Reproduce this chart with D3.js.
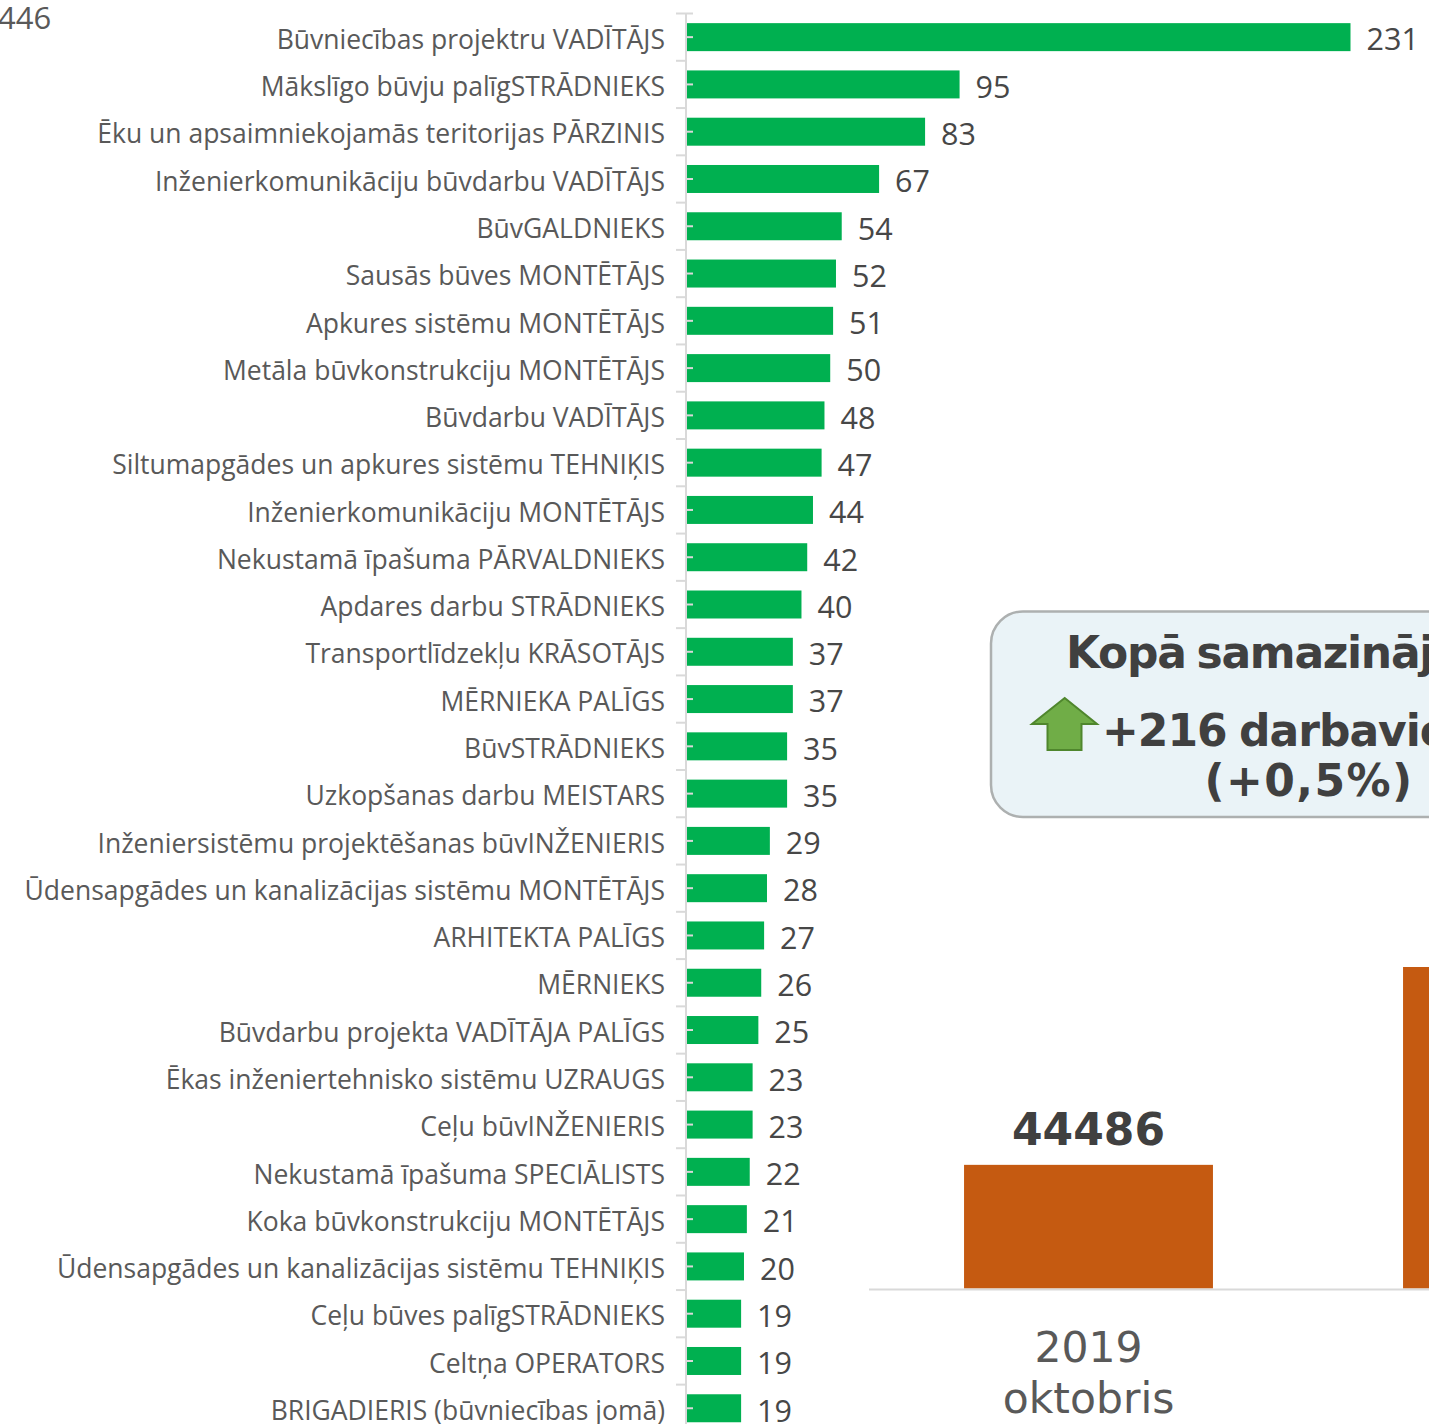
<!DOCTYPE html>
<html><head><meta charset="utf-8">
<script src="https://cdn.jsdelivr.net/npm/d3@7"></script>
<style>html,body{margin:0;padding:0;background:#fff;overflow:hidden}svg{display:block}</style>
</head><body><svg id="c" width="1429" height="1424"></svg>
<script>
const professions = ["Būvniecības projektru VADĪTĀJS","Mākslīgo būvju palīgSTRĀDNIEKS","Ēku un apsaimniekojamās teritorijas PĀRZINIS","Inženierkomunikāciju būvdarbu VADĪTĀJS","BūvGALDNIEKS","Sausās būves MONTĒTĀJS","Apkures sistēmu MONTĒTĀJS","Metāla būvkonstrukciju MONTĒTĀJS","Būvdarbu VADĪTĀJS","Siltumapgādes un apkures sistēmu TEHNIĶIS","Inženierkomunikāciju MONTĒTĀJS","Nekustamā īpašuma PĀRVALDNIEKS","Apdares darbu STRĀDNIEKS","Transportlīdzekļu KRĀSOTĀJS","MĒRNIEKA PALĪGS","BūvSTRĀDNIEKS","Uzkopšanas darbu MEISTARS","Inženiersistēmu projektēšanas būvINŽENIERIS","Ūdensapgādes un kanalizācijas sistēmu MONTĒTĀJS","ARHITEKTA PALĪGS","MĒRNIEKS","Būvdarbu projekta VADĪTĀJA PALĪGS","Ēkas inženiertehnisko sistēmu UZRAUGS","Ceļu būvINŽENIERIS","Nekustamā īpašuma SPECIĀLISTS","Koka būvkonstrukciju MONTĒTĀJS","Ūdensapgādes un kanalizācijas sistēmu TEHNIĶIS","Ceļu būves palīgSTRĀDNIEKS","Celtņa OPERATORS","BRIGADIERIS (būvniecības jomā)"];
const vacancies = [231,95,83,67,54,52,51,50,48,47,44,42,40,37,37,35,35,29,28,27,26,25,23,23,22,21,20,19,19,19];
const periods = ["2019 oktobris","nākamais periods"];
const totals = [44486,44702];
const cutoffLabel = "446";
const calloutTitle = "Kopā samazinājums";
const calloutChange = "+216 darbavietas";
const calloutPercent = "(+0,5%)";

const svg = d3.select("#c");
const sans = "'Open Sans', sans-serif", dj = "'DejaVu Sans', sans-serif";

const rowStep = 47.28, plotTop = 13.5;
const x = d3.scaleLinear().domain([0,231]).range([687,1351]);
const y = d3.scaleBand().domain(professions).range([plotTop, plotTop+rowStep*professions.length]).paddingInner(0.408).paddingOuter(0.204);

svg.append("text").attr("x",-2).attr("y",29).attr("font-family",sans).attr("font-size",31).attr("fill","#595959").text(cutoffLabel);

svg.append("g").selectAll("rect").data(professions).join("rect")
  .attr("x",x(0)).attr("y",d=>y(d)).attr("height",y.bandwidth())
  .attr("width",(d,i)=>x(vacancies[i])-x(0)-0.5).attr("fill","#00B050");

const ax = svg.append("g").attr("stroke","#D9D9D9").attr("stroke-width",2);
ax.append("line").attr("x1",686).attr("x2",686).attr("y1",plotTop).attr("y2",1424);
const edges = d3.range(professions.length+1).map(i=>plotTop+i*rowStep);
ax.selectAll("line.maj").data(edges).join("line").attr("class","maj")
  .attr("x1",676).attr("x2",(d,i)=>i===0?693:686).attr("y1",d=>d).attr("y2",d=>d);
ax.selectAll("line.min").data(professions).join("line").attr("class","min")
  .attr("x1",686).attr("x2",693).attr("y1",d=>y(d)+y.bandwidth()/2).attr("y2",d=>y(d)+y.bandwidth()/2);

svg.append("g").selectAll("text").data(professions).join("text")
  .attr("x",665).attr("y",d=>y(d)+y.bandwidth()/2+11.7).attr("text-anchor","end")
  .attr("font-family",sans).attr("font-size",26.5).attr("fill","#595959").text(d=>d);
svg.append("g").selectAll("text").data(vacancies).join("text")
  .attr("x",d=>x(d)+15.5).attr("y",(d,i)=>y(professions[i])+y.bandwidth()/2+13.3)
  .attr("font-family",sans).attr("font-size",30.5).attr("fill","#474747").text(d=>d);

// totals panel
const bx = d3.scaleBand().domain(periods).range([869,1747]).paddingInner(0.433).paddingOuter(0.2165);
const by = d3.scaleLinear().domain([44351,44702]).range([1288.5,967]);
svg.append("g").selectAll("rect").data(periods).join("rect")
  .attr("x",d=>bx(d)).attr("width",bx.bandwidth())
  .attr("y",(d,i)=>by(totals[i])).attr("height",(d,i)=>by(44351)-by(totals[i])).attr("fill","#C55A11");
svg.append("line").attr("x1",869).attr("x2",1429).attr("y1",1289.5).attr("y2",1289.5).attr("stroke","#D9D9D9").attr("stroke-width",2);
const cx0 = bx(periods[0])+bx.bandwidth()/2;
svg.append("text").attr("x",cx0).attr("y",1145).attr("text-anchor","middle")
  .attr("font-family",dj).attr("font-weight","bold").attr("font-size",44).attr("fill","#404040").text(totals[0]);
const pl = periods[0].split(" ");
svg.append("text").attr("x",cx0).attr("y",1362).attr("text-anchor","middle").attr("font-family",dj).attr("font-size",42.5).attr("fill","#595959").text(pl[0]);
svg.append("text").attr("x",cx0).attr("y",1413).attr("text-anchor","middle").attr("font-family",dj).attr("font-size",42.5).attr("fill","#595959").text(pl[1]);

// callout
svg.append("rect").attr("x",991).attr("y",611.5).attr("width",636).attr("height",205.5).attr("rx",32)
  .attr("fill","#EAF3F7").attr("stroke","#ADB0B0").attr("stroke-width",2.5);
svg.append("path").attr("d",d3.line()([[1064.7,698],[1097,724],[1081.5,724],[1081.5,750],[1047.5,750],[1047.5,724],[1032,724]])+"Z")
  .attr("fill","#70AD47").attr("stroke","#4F862D").attr("stroke-width",2);
const ct = (s,xx,yy,ls,ws)=>svg.append("text").attr("x",xx).attr("y",yy).attr("font-family",dj).attr("font-weight","bold").attr("font-size",44).attr("letter-spacing",ls).attr("word-spacing",ws).attr("fill","#404040").text(s);
ct(calloutTitle,1066,668,-1.3,-3);
ct(calloutChange,1102,746,-1,-2);
ct(calloutPercent,1309,796,1.4,0).attr("text-anchor","middle");
</script></body></html>
